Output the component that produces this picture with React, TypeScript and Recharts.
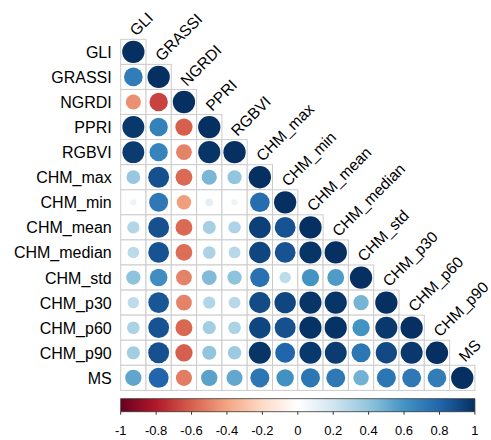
import React from 'react';
import { ScatterChart, Scatter, XAxis, YAxis, ReferenceArea } from 'recharts';

const variables = ['GLI', 'GRASSI', 'NGRDI', 'PPRI', 'RGBVI', 'CHM_max', 'CHM_min', 'CHM_mean', 'CHM_median', 'CHM_std', 'CHM_p30', 'CHM_p60', 'CHM_p90', 'MS'];

// lower-triangle correlation rows (row variable vs. earlier columns, ending with the diagonal)
const rowGLI = [1];
const rowGRASSI = [0.7, 1];
const rowNGRDI = [-0.46, -0.68, 1];
const rowPPRI = [0.97, 0.68, -0.6, 1];
const rowRGBVI = [0.96, 0.67, -0.5, 0.98, 1];
const rowCHMmax = [0.38, 0.88, -0.57, 0.46, 0.4, 1];
const rowCHMmin = [0.08, 0.72, -0.42, 0.12, 0.08, 0.77, 1];
const rowCHMmean = [0.3, 0.88, -0.57, 0.34, 0.31, 0.94, 0.87, 1];
const rowCHMmedian = [0.27, 0.87, -0.56, 0.32, 0.28, 0.92, 0.87, 0.98, 1];
const rowCHMstd = [0.41, 0.62, -0.5, 0.44, 0.41, 0.75, 0.26, 0.6, 0.57, 1];
const rowCHMp30 = [0.26, 0.86, -0.5, 0.3, 0.28, 0.9, 0.92, 0.98, 0.98, 0.47, 1];
const rowCHMp60 = [0.32, 0.87, -0.58, 0.35, 0.32, 0.92, 0.88, 0.99, 0.99, 0.6, 0.97, 1];
const rowCHMp90 = [0.35, 0.88, -0.6, 0.4, 0.37, 0.98, 0.8, 0.97, 0.96, 0.73, 0.91, 0.97, 1];
const rowMS = [0.53, 0.8, -0.52, 0.54, 0.52, 0.73, 0.61, 0.73, 0.72, 0.48, 0.73, 0.72, 0.7, 1];

const corrRows = [rowGLI, rowGRASSI, rowNGRDI, rowPPRI, rowRGBVI, rowCHMmax, rowCHMmin, rowCHMmean, rowCHMmedian, rowCHMstd, rowCHMp30, rowCHMp60, rowCHMp90, rowMS];

const legendTicks = [-1, -0.8, -0.6, -0.4, -0.2, 0, 0.2, 0.4, 0.6, 0.8, 1];
const palette = ['#67001F', '#B2182B', '#D6604D', '#F4A582', '#FDDBC7', '#FFFFFF', '#D1E5F0', '#92C5DE', '#4393C3', '#2166AC', '#053061'];

const cells = corrRows.flatMap((row, i) => row.map((r, j) => ({ x: j, y: i, r })));
const legendPoints = legendTicks.map((v) => ({ c: v, y: 14 }));

const W = 491;
const H = 440;
const TOP = 39.3;
const RIGHT = 16.1;
const Y_AXIS_W = 120.7;
const X_AXIS_H = 28.3;
const xDomain: [number, number] = [-0.5, 13.5];
const yDomain: [number, number] = [-0.5, 14.35];
const plotW = W - Y_AXIS_W - RIGHT;
const plotH = H - TOP - X_AXIS_H;
const cellW = plotW / (xDomain[1] - xDomain[0]);
const cellH = plotH / (yDomain[1] - yDomain[0]);
const FONT = "Arial, 'Liberation Sans', Helvetica, sans-serif";

function hexToRgb(h: string) {
  return [parseInt(h.slice(1, 3), 16), parseInt(h.slice(3, 5), 16), parseInt(h.slice(5, 7), 16)];
}

function corrColor(r: number) {
  const t = ((r + 1) / 2) * (palette.length - 1);
  const i = Math.min(Math.floor(t), palette.length - 2);
  const f = t - i;
  const a = hexToRgb(palette[i]);
  const b = hexToRgb(palette[i + 1]);
  const c = a.map((v, k) => Math.round(v + (b[k] - v) * f));
  return `rgb(${c[0]},${c[1]},${c[2]})`;
}

const CellShape = (props: any) => {
  const { cx, cy, payload } = props;
  const { x: j, y: i, r } = payload;
  const rad = 0.445 * Math.min(cellW, cellH) * Math.sqrt(Math.abs(r));
  return (
    <g>
      <rect x={cx - cellW / 2} y={cy - cellH / 2} width={cellW} height={cellH} fill="#fff" stroke="#cccccc" strokeWidth={1} />
      <circle cx={cx} cy={cy} r={rad} fill={corrColor(r)} />
      {i === j && (
        <text
          transform={`translate(${cx + 3},${cy - cellH / 2 - 2.5}) rotate(-45)`}
          fontSize={15.6}
          fontFamily={FONT}
          fill="#000"
        >
          {variables[j]}
        </text>
      )}
    </g>
  );
};

const EmptyShape = () => <g />;

const RowTick = (props: any) => {
  const { x, y, payload } = props;
  return (
    <text x={x} y={y} dy={6} textAnchor="end" fontSize={16} fontFamily={FONT} fill="#000">
      {variables[payload.value]}
    </text>
  );
};

export default function App() {
  return (
    <div style={{ position: 'absolute', left: 0, top: 0, width: W, height: H, background: '#fff' }}>
      <ScatterChart width={W} height={H} margin={{ top: TOP, right: RIGHT, bottom: 0, left: 0 }}>
        <defs>
          <linearGradient id="cbGrad" x1="0" y1="0" x2="1" y2="0">
            {palette.map((c, k) => (
              <stop key={k} offset={`${(k / (palette.length - 1)) * 100}%`} stopColor={c} />
            ))}
          </linearGradient>
        </defs>
        <XAxis xAxisId="m" dataKey="x" type="number" domain={xDomain} hide />
        <XAxis
          xAxisId="cb"
          dataKey="c"
          type="number"
          domain={[-1, 1]}
          ticks={legendTicks}
          interval={0}
          axisLine={false}
          tickSize={3}
          tickMargin={11.5}
          height={X_AXIS_H}
          tickLine={{ stroke: '#333' }}
          tick={{ fontSize: 13, fill: '#000', fontFamily: FONT }}
          tickFormatter={(v: number) => String(v)}
        />
        <YAxis
          dataKey="y"
          type="number"
          domain={yDomain}
          reversed
          width={Y_AXIS_W}
          ticks={variables.map((_, k) => k)}
          interval={0}
          axisLine={false}
          tickLine={false}
          tickSize={0}
          tickMargin={9}
          tick={<RowTick />}
        />
        <ReferenceArea
          xAxisId="cb"
          x1={-1}
          x2={1}
          y1={13.83}
          y2={14.35}
          fill="url(#cbGrad)"
          fillOpacity={1}
          stroke="#333"
          strokeWidth={0.8}
          ifOverflow="visible"
        />
        <Scatter xAxisId="cb" data={legendPoints} shape={EmptyShape} isAnimationActive={false} />
        <Scatter xAxisId="m" data={cells} shape={CellShape} isAnimationActive={false} />
      </ScatterChart>
    </div>
  );
}
